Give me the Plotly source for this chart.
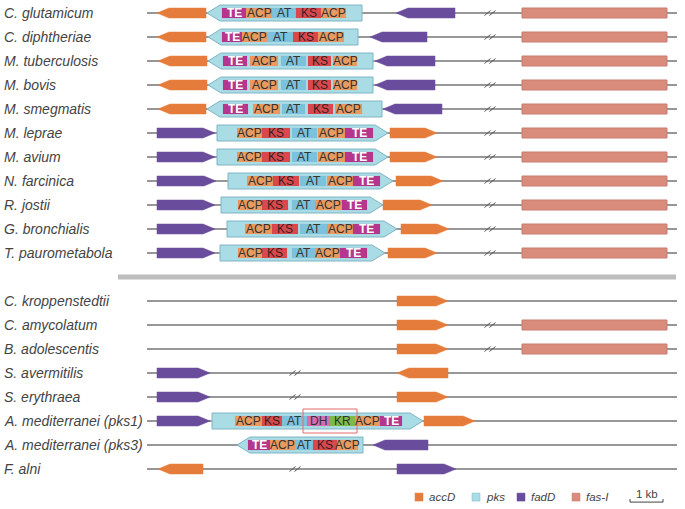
import plotly.graph_objects as go

# ---------------- data ----------------
species = ["C. glutamicum", "C. diphtheriae", "M. tuberculosis", "M. bovis", "M. smegmatis",
           "M. leprae", "M. avium", "N. farcinica", "R. jostii", "G. bronchialis",
           "T. paurometabola",
           "C. kroppenstedtii", "C. amycolatum", "B. adolescentis", "S. avermitilis",
           "S. erythraea", "A. mediterranei (pks1)", "A. mediterranei (pks3)", "F. alni"]
species_row = [0, 1, 2, 3, 4, 5, 6, 7, 8, 9, 10, 12, 13, 14, 15, 16, 17, 18, 19]
locus_start = 147
locus_end = 677

accD_row = [0, 1, 2, 3, 4, 5, 6, 7, 8, 9, 10, 12, 13, 14, 15, 16, 17, 19]
accD_start = [157, 157, 158, 158, 158, 390, 390, 396, 383, 401, 388, 397, 397, 397, 397, 397, 424, 158]
accD_end = [206, 206, 207, 207, 206, 437, 437, 443, 432, 449, 437, 448, 448, 448, 448, 448, 475, 203]
accD_strand = [-1, -1, -1, -1, -1, 1, 1, 1, 1, 1, 1, 1, 1, 1, -1, 1, 1, -1]

fadD_row = [0, 1, 2, 3, 4, 5, 6, 7, 8, 9, 10, 15, 16, 17, 18, 19]
fadD_start = [396, 370, 375, 375, 383, 157, 157, 157, 157, 157, 157, 157, 157, 157, 373, 397]
fadD_end = [455, 427, 435, 435, 442, 215, 215, 216, 215, 215, 215, 210, 210, 210, 428, 456]
fadD_strand = [-1, -1, -1, -1, -1, 1, 1, 1, 1, 1, 1, 1, 1, 1, -1, 1]

fasI_row = [0, 1, 2, 3, 4, 5, 6, 7, 8, 9, 10, 13, 14]
fasI_start = [522] * 13
fasI_end = [667] * 13

pks_row = [0, 1, 2, 3, 4, 5, 6, 7, 8, 9, 10, 17, 18]
pks_start = [207, 208, 208, 208, 207, 217, 217, 228, 221, 227, 220, 212, 237]
pks_end = [362, 358, 373, 373, 382, 388, 388, 393, 383, 397, 385, 423, 363]
pks_strand = [-1, -1, -1, -1, -1, 1, 1, 1, 1, 1, 1, 1, -1]
pks_domain_names = [
    ["TE", "ACP", "AT", "KS", "ACP"],
    ["TE", "ACP", "AT", "KS", "ACP"],
    ["TE", "ACP", "AT", "KS", "ACP"],
    ["TE", "ACP", "AT", "KS", "ACP"],
    ["TE", "ACP", "AT", "KS", "ACP"],
    ["ACP", "KS", "AT", "ACP", "TE"],
    ["ACP", "KS", "AT", "ACP", "TE"],
    ["ACP", "KS", "AT", "ACP", "TE"],
    ["ACP", "KS", "AT", "ACP", "TE"],
    ["ACP", "KS", "AT", "ACP", "TE"],
    ["ACP", "KS", "AT", "ACP", "TE"],
    ["ACP", "KS", "AT", "DH", "KR", "ACP", "TE"],
    ["TE", "ACP", "AT", "KS", "ACP"],
]
pks_domain_bounds = [
    [(222, 246), (246, 272), (272, 296), (296, 321), (321, 346)],
    [(222, 242), (242, 267), (267, 293), (293, 318), (318, 344)],
    [(223, 247), (250, 278), (281, 306), (308, 331), (333, 357)],
    [(223, 247), (250, 278), (281, 306), (308, 331), (333, 357)],
    [(223, 248), (253, 280), (282, 305), (308, 333), (335, 362)],
    [(237, 262), (262, 290), (292, 317), (318, 345), (345, 373)],
    [(237, 262), (262, 290), (292, 317), (318, 345), (345, 373)],
    [(247, 273), (273, 299), (300, 326), (327, 353), (353, 380)],
    [(238, 262), (262, 288), (292, 315), (315, 342), (342, 367)],
    [(245, 272), (272, 298), (300, 327), (327, 353), (353, 380)],
    [(238, 262), (262, 287), (292, 315), (315, 340), (340, 367)],
    [(235, 262), (262, 282), (282, 307), (307, 330), (330, 355), (355, 380), (380, 402)],
    [(248, 270), (270, 295), (295, 313), (313, 337), (337, 358)],
]

break_row = [0, 1, 2, 3, 4, 5, 6, 7, 8, 9, 10, 13, 14, 15, 16, 19]
break_x = [490, 490, 490, 490, 490, 490, 490, 490, 490, 490, 490, 490, 490, 295, 295, 295]

highlight_row = 17
highlight_x = (303, 357)

separator_row = 11
separator_x = (118, 676)

legend_labels = ["accD", "pks", "fadD", "fas-I"]
legend_x = [415, 472, 517, 572]
legend_row = 20.17
scale_label = "1 kb"
scale_x = (630, 663)

# ---------------- styles ----------------
gene_colors = {"accD": "#e67c3b", "pks": "#aadce6", "fadD": "#6a4c9c", "fas-I": "#d98b7c"}
gene_border = {"accD": "#e67c3b", "pks": "#7fb4c2", "fadD": "#6a4c9c", "fas-I": "#c97d6e"}
domain_colors = {"TE": "#b5368c", "ACP": "#e99a5e", "AT": "#7cc2dc", "KS": "#d9484d",
                 "DH": "#d66fb2", "KR": "#7cba4a"}
domain_text = {"TE": "white", "ACP": "#333333", "AT": "#333333", "KS": "#3a1f1f",
               "DH": "#333333", "KR": "#333333"}
PX = 1 / 24.0  # one pixel in row units
H_SMALL = 5 * PX
H_PKS = 8 * PX
H_DOM = 5 * PX
FONT = "Liberation Sans, Arial, sans-serif"

fig = go.Figure()


def arrow(s, e, y, strand, h, hl):
    hl = min(hl, (e - s) * 0.5)
    if strand > 0:
        xs = [s, e - hl, e, e - hl, s, s]
        ys = [y - h, y - h, y, y + h, y + h, y - h]
    elif strand < 0:
        xs = [e, s + hl, s, s + hl, e, e]
        ys = [y - h, y - h, y, y + h, y + h, y - h]
    else:
        xs = [s, e, e, s, s]
        ys = [y - h, y - h, y + h, y + h, y - h]
    return xs, ys


def add_polys(polys, fill, line, width=1.0):
    xs, ys = [], []
    for px, py in polys:
        xs += px + [None]
        ys += py + [None]
    fig.add_trace(go.Scatter(x=xs, y=ys, mode="lines", fill="toself", fillcolor=fill,
                             line=dict(color=line, width=width), hoverinfo="skip",
                             showlegend=False))


# backbone lines
bx, by = [], []
for r in species_row:
    bx += [locus_start, locus_end, None]
    by += [r, r, None]
fig.add_trace(go.Scatter(x=bx, y=by, mode="lines", line=dict(color="#747474", width=1.4),
                         hoverinfo="skip", showlegend=False))

# separator
fig.add_trace(go.Scatter(x=list(separator_x), y=[separator_row] * 2, mode="lines",
                         line=dict(color="#bdbdbd", width=5), hoverinfo="skip",
                         showlegend=False))

# break marks
for r, x in zip(break_row, break_x):
    for dx in (-2.5, 2.5):
        fig.add_trace(go.Scatter(x=[x + dx - 3, x + dx + 3], y=[r + 2.5 * PX, r - 2.5 * PX],
                                 mode="lines", line=dict(color="#555555", width=1),
                                 hoverinfo="skip", showlegend=False))

# genes
add_polys([arrow(s, e, r, st, H_SMALL, 12) for r, s, e, st in
           zip(accD_row, accD_start, accD_end, accD_strand)],
          gene_colors["accD"], gene_border["accD"], 0.5)
add_polys([arrow(s, e, r, st, H_SMALL, 12) for r, s, e, st in
           zip(fadD_row, fadD_start, fadD_end, fadD_strand)],
          gene_colors["fadD"], gene_border["fadD"], 0.5)
add_polys([arrow(s, e, r, 0, H_SMALL, 0) for r, s, e in
           zip(fasI_row, fasI_start, fasI_end)],
          gene_colors["fas-I"], gene_border["fas-I"], 1)
add_polys([arrow(s, e, r, st, H_PKS, 13) for r, s, e, st in
           zip(pks_row, pks_start, pks_end, pks_strand)],
          gene_colors["pks"], gene_border["pks"], 1)

# domains
annotations = []
for r, names, bounds in zip(pks_row, pks_domain_names, pks_domain_bounds):
    for n, (s, e) in zip(names, bounds):
        add_polys([arrow(s, e, r, 0, H_DOM, 0)], domain_colors[n], domain_colors[n], 0.1)
        label = "<b>" + n + "</b>" if n == "TE" else n
        annotations.append(dict(x=(s + e) / 2, y=r, text=label, showarrow=False,
                                xanchor="center", yanchor="middle",
                                font=dict(family=FONT, size=12, color=domain_text[n])))

# highlight box
hs, he = highlight_x
fig.add_trace(go.Scatter(x=[hs, he, he, hs, hs],
                         y=[highlight_row - 0.5, highlight_row - 0.5, highlight_row + 0.5,
                            highlight_row + 0.5, highlight_row - 0.5],
                         mode="lines", line=dict(color="#e26a6a", width=1),
                         hoverinfo="skip", showlegend=False))

# species labels
for name, r in zip(species, species_row):
    annotations.append(dict(x=2, y=r, text="<i>" + name + "</i>", showarrow=False,
                            xanchor="left", yanchor="middle",
                            font=dict(family=FONT, size=14, color="#444444")))

# legend
for lab, lx in zip(legend_labels, legend_x):
    add_polys([([lx, lx + 8, lx + 8, lx, lx],
                [legend_row - 4 * PX, legend_row - 4 * PX, legend_row + 4 * PX,
                 legend_row + 4 * PX, legend_row - 4 * PX])],
              gene_colors[lab], gene_border[lab], 0.5)
    annotations.append(dict(x=lx + 12, y=legend_row, text="<i>" + lab + "</i>",
                            showarrow=False, xanchor="left", yanchor="middle",
                            font=dict(family=FONT, size=11.5, color="#444444")))

# scale bar
s0, s1 = scale_x
yb = legend_row + 5 * PX
fig.add_trace(go.Scatter(x=[s0, s0, s1, s1], y=[yb - 3 * PX, yb, yb, yb - 3 * PX], mode="lines",
                         line=dict(color="#444444", width=1), hoverinfo="skip",
                         showlegend=False))
annotations.append(dict(x=(s0 + s1) / 2, y=legend_row - 3 * PX, text=scale_label,
                        showarrow=False, xanchor="center", yanchor="middle",
                        font=dict(family=FONT, size=11.5, color="#444444")))

fig.update_layout(
    width=685, height=509, margin=dict(l=0, r=0, t=0, b=0),
    paper_bgcolor="white", plot_bgcolor="white",
    xaxis=dict(range=[0, 685], visible=False, fixedrange=True),
    yaxis=dict(range=[(509 - 13) / 24.0, -13 / 24.0], visible=False, fixedrange=True),
    annotations=annotations, showlegend=False,
)
fig.write_html("out.html", config={"displayModeBar": False},
               post_script="document.body.style.margin='0';"
                           "document.body.style.overflow='hidden';")
